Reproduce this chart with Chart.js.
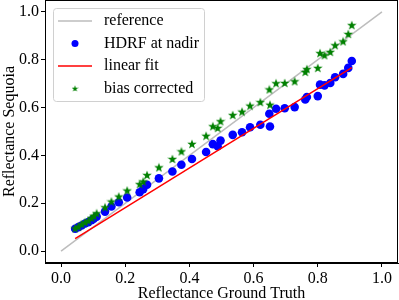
<!DOCTYPE html>
<html>
<head>
<meta charset="utf-8">
<script src="https://cdn.jsdelivr.net/npm/chart.js@4.4.1/dist/chart.umd.min.js"></script>
<style>
html,body{margin:0;padding:0;background:#fff;}
#wrap{width:399px;height:300px;position:relative;}
</style>
</head>
<body>
<div id="wrap"><canvas id="c" width="399" height="300"></canvas></div>
<script>
// ---- data ----
const groundTruth = [0.044,0.054,0.064,0.075,0.085,0.095,0.102,0.111,0.137,0.157,0.180,0.206,0.245,0.256,0.268,0.305,0.347,0.375,0.408,0.452,0.473,0.488,0.497,0.535,0.564,0.589,0.621,0.651,0.649,0.670,0.697,0.728,0.761,0.766,0.800,0.807,0.821,0.839,0.854,0.879,0.895,0.906];
const hdrfNadir   = [0.093,0.100,0.107,0.115,0.121,0.129,0.135,0.144,0.165,0.186,0.204,0.224,0.246,0.259,0.277,0.304,0.333,0.361,0.385,0.414,0.447,0.438,0.462,0.486,0.497,0.518,0.528,0.521,0.574,0.595,0.597,0.602,0.634,0.644,0.648,0.696,0.693,0.703,0.727,0.741,0.766,0.795];
const biasCorrected = [0.095,0.102,0.112,0.120,0.127,0.138,0.147,0.158,0.183,0.207,0.228,0.253,0.280,0.291,0.318,0.350,0.385,0.417,0.448,0.482,0.522,0.515,0.543,0.569,0.583,0.608,0.623,0.612,0.676,0.702,0.703,0.710,0.749,0.761,0.766,0.828,0.819,0.833,0.861,0.877,0.908,0.945];
const fitX = [0.044, 0.906];
const fitY = [0.052, 0.767];
const refX = [0.0, 1.0];
const refY = [0.0, 1.0];
const xTicks = [0.0,0.2,0.4,0.6,0.8,1.0];
const yTicks = [0.0,0.2,0.4,0.6,0.8,1.0];
const labels = ['reference','HDRF at nadir','linear fit','bias corrected'];

const pts = (xs, ys) => xs.map((x,i)=>({x:x, y:ys[i]}));

function makeStar(size, color){
  const c = document.createElement('canvas');
  c.width = size; c.height = size;
  const g = c.getContext('2d');
  const R = size/2, r = R*0.4, cx = size/2, cy = size/2 + size*0.04;
  g.beginPath();
  for (let i=0;i<10;i++){
    const a = -Math.PI/2 + i*Math.PI/5;
    const rad = (i%2===0) ? R : r;
    const px = cx + rad*Math.cos(a), py = cy + rad*Math.sin(a);
    if (i===0) g.moveTo(px,py); else g.lineTo(px,py);
  }
  g.closePath();
  g.fillStyle = color; g.fill();
  return c;
}
const starImg = makeStar(10, '#008000');
const starSmall = makeStar(7, '#008000');

const FONT = 'Liberation Serif, "Times New Roman", serif';
const FS = 16;

const framePlugin = {
  id:'frame',
  afterDatasetsDraw(chart){
    const a = chart.chartArea, g = chart.ctx;
    g.save();
    g.strokeStyle = '#000'; g.lineWidth = 1;
    g.strokeRect(Math.round(a.left)+0.5, Math.round(a.top)+0.5, Math.round(a.right-a.left)-1, Math.round(a.bottom-a.top)-1);
    g.restore();
  },
  afterDraw(chart){
    const g = chart.ctx;
    g.save();
    const x0=53.5, y0=8.5, x1=204.5, y1=101.5, rr=3;
    g.beginPath();
    g.moveTo(x0+rr,y0); g.lineTo(x1-rr,y0); g.quadraticCurveTo(x1,y0,x1,y0+rr);
    g.lineTo(x1,y1-rr); g.quadraticCurveTo(x1,y1,x1-rr,y1);
    g.lineTo(x0+rr,y1); g.quadraticCurveTo(x0,y1,x0,y1-rr);
    g.lineTo(x0,y0+rr); g.quadraticCurveTo(x0,y0,x0+rr,y0);
    g.closePath();
    g.fillStyle='rgba(255,255,255,0.8)'; g.fill();
    g.strokeStyle='#d0d0d0'; g.lineWidth=1; g.stroke();
    const rows=[21,43.5,66,88.5];
    g.strokeStyle='#bdbdbd'; g.lineWidth=1.5;
    g.beginPath(); g.moveTo(58,rows[0]); g.lineTo(92,rows[0]); g.stroke();
    g.fillStyle='#0000ff';
    g.beginPath(); g.arc(75,rows[1],3.5,0,Math.PI*2); g.fill();
    g.strokeStyle='#ff0000'; g.lineWidth=1.5;
    g.beginPath(); g.moveTo(58,rows[2]); g.lineTo(92,rows[2]); g.stroke();
    g.drawImage(starSmall, 75-3.5, rows[3]-3.5);
    g.fillStyle='#000';
    g.font = FS + 'px ' + FONT;
    g.textBaseline='middle'; g.textAlign='left';
    labels.forEach((t,i)=>g.fillText(t,104,rows[i]));
    g.restore();
  }
};

new Chart(document.getElementById('c'), {
  type:'scatter',
  data:{
    datasets:[
      {label:labels[3], data:pts(groundTruth,biasCorrected), pointStyle:starImg, pointRadius:5, order:0},
      {label:labels[2], type:'line', data:pts(fitX,fitY), borderColor:'#ff0000', borderWidth:1.5, pointRadius:0, fill:false, order:1},
      {label:labels[1], data:pts(groundTruth,hdrfNadir), pointStyle:'circle', pointRadius:4.3, backgroundColor:'#0000ff', borderColor:'#0000ff', borderWidth:0, order:2},
      {label:labels[0], type:'line', data:pts(refX,refY), borderColor:'#bdbdbd', borderWidth:1.5, pointRadius:0, fill:false, order:3}
    ]
  },
  options:{
    responsive:false,
    animation:false,
    devicePixelRatio:1,
    layout:{autoPadding:false, padding:{left:0,right:1,top:0,bottom:0}},
    plugins:{legend:{display:false}, tooltip:{enabled:false}},
    scales:{
      x:{
        type:'linear', position:'bottom', min:-0.05, max:1.05,
        afterBuildTicks(s){ s.ticks = xTicks.map(v=>({value:v})); },
        afterFit(s){ s.height = 37; s.paddingLeft = 0; s.paddingRight = 0; },
        ticks:{color:'#000', font:{family:FONT, size:FS}, padding:2, maxRotation:0, callback:v=>Number(v).toFixed(1)},
        grid:{drawOnChartArea:false, tickLength:4, tickColor:'#000', tickWidth:1},
        border:{color:'#000', width:1},
        title:{display:true, text:'Reflectance Ground Truth', color:'#000', font:{family:FONT, size:FS, lineHeight:1.0}, padding:{top:0,bottom:-2}}
      },
      y:{
        type:'linear', position:'left', min:-0.05, max:1.05,
        afterBuildTicks(s){ s.ticks = yTicks.map(v=>({value:v})); },
        afterFit(s){ s.width = 45; s.paddingTop = 0; s.paddingBottom = 0; },
        ticks:{color:'#000', font:{family:FONT, size:FS}, padding:2, callback:v=>Number(v).toFixed(1)},
        grid:{drawOnChartArea:false, tickLength:4, tickColor:'#000', tickWidth:1},
        border:{color:'#000', width:1},
        title:{display:true, text:'Reflectance Sequoia', color:'#000', font:{family:FONT, size:FS}, padding:{top:0,bottom:0}}
      }
    }
  },
  plugins:[framePlugin]
});
</script>
</body>
</html>
